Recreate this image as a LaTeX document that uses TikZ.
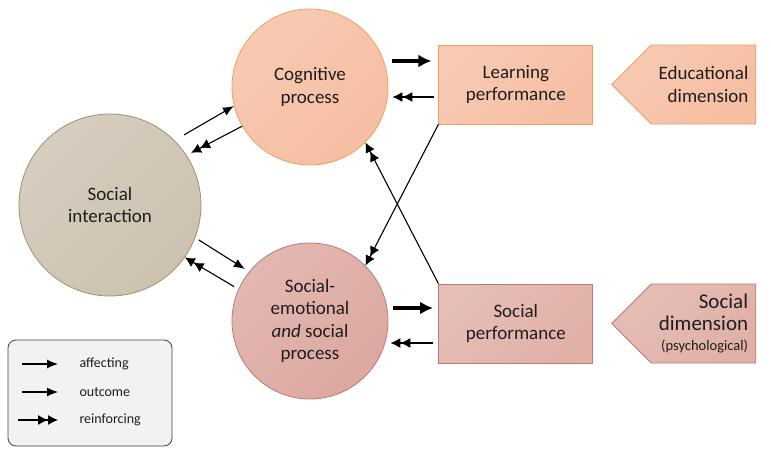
\documentclass[tikz,border=0pt]{standalone}
\usepackage{fontspec}
\setmainfont{Carlito}
\usetikzlibrary{positioning}
\usetikzlibrary{arrows.meta}
\usetikzlibrary{shapes.symbols}
\definecolor{cogfill}{RGB}{246,190,162}
\definecolor{cogline}{RGB}{236,162,90}
\definecolor{socfill}{RGB}{204,194,176}
\definecolor{socline}{RGB}{160,145,115}
\definecolor{emofill}{RGB}{220,168,160}
\definecolor{emoline}{RGB}{190,122,114}
\definecolor{perffill}{RGB}{224,176,167}
\definecolor{textcol}{RGB}{30,30,30}
\tikzset{node distance=50pt, % distance between circles and boxes
  every node/.style={align=center, text=textcol},
  shaded/.style={top color=#1!82!white, bottom color=#1, shading angle=45},
  process/.style={ % circles
    circle, draw, line width=0.8pt,
    minimum size=156pt, inner sep=0pt,
    font=\fontsize{19}{22.5}\selectfont},
  perf/.style={ % boxes
    rectangle, draw, line width=0.8pt,
    minimum width=154pt, minimum height=79pt,
    font=\fontsize{19}{22.5}\selectfont},
  dimension/.style={ % pointed boxes
    signal, signal to=west, signal pointer angle=90,
    draw, line width=0.8pt, align=right,
    minimum width=144pt, minimum height=79pt},
  affecting/.style={draw, line width=1.1pt, -{Latex[length=11pt,width=9pt]}},
  outcome/.style={draw, line width=3.4pt, -{Latex[length=13pt,width=13pt]}},
  reinforcing/.style={draw, line width=1.1pt,
    -{Latex[length=10pt,width=10pt]Latex[length=10pt,width=10pt]}},
  legendbox/.style={rectangle, rounded corners=8pt, draw=black!75,
    fill=black!5, line width=0.8pt,
    minimum width=164pt, minimum height=106pt},
  legendtext/.style={anchor=west, font=\fontsize{14}{16}\selectfont}}

\begin{document}
\begin{tikzpicture}[x=1pt,y=-1pt]
  \useasboundingbox (0,0) rectangle (771,453);
  \node [process, shaded=socfill, draw=socline, minimum size=182pt] (socint) at (110,205) {Social\\ interaction};
  \node [process, shaded=cogfill, draw=cogline] (cogproc) at (310,87) {Cognitive\\ process};
  \node [process, shaded=emofill, draw=emoline] (emoproc) at (310,321) {Social-\\ emotional\\ \textit{and} social\\ process};

  \node [perf, shaded=cogfill, draw=cogline, right=of cogproc, yshift=2.5pt] (learnperf) {Learning\\ performance};
  \node [perf, shaded=perffill, draw=emoline, right=of emoproc, yshift=-2.5pt] (socperf) {Social\\ performance};

  \node [dimension, shaded=cogfill, draw=cogline, right=18pt of learnperf,
    font=\fontsize{19}{22.5}\selectfont] (edudim) {Educational\\ dimension};
  \node [dimension, shaded=perffill, draw=emoline, right=18pt of socperf,
    font=\fontsize{21}{22}\selectfont] (socdim) {Social\\ dimension\\[-2pt]
    {\fontsize{14.5}{16}\selectfont (psychological)}};

  % circle to circle
  \draw [affecting, shorten <=11pt] (socint.45) -- (cogproc.194);
  \draw [reinforcing, shorten >=5pt] (cogproc.210) -- (socint.33);
  \draw [affecting, shorten <=4pt, shorten >=5pt] (socint.339) -- (emoproc.141);
  \draw [reinforcing, shorten <=5pt] (emoproc.156) -- (socint.325);

  % circle to box
  \draw [outcome] ([xshift=4pt,yshift=26pt]cogproc.east) -- ([xshift=-7pt,yshift=23.5pt]learnperf.west);
  \draw [reinforcing] ([xshift=-4pt,yshift=-12.5pt]learnperf.west) -- ([xshift=4pt,yshift=-10pt]cogproc.east);
  \draw [outcome] ([xshift=4.6pt,yshift=13pt]emoproc.east) -- ([xshift=-5.4pt,yshift=15.5pt]socperf.west);
  \draw [reinforcing] ([xshift=-5pt,yshift=-19.5pt]socperf.west) -- ([xshift=2pt,yshift=-22pt]emoproc.east);

  % crossing
  \draw [reinforcing] (learnperf.south west) -- (emoproc.45);
  \draw [reinforcing] (socperf.north west) -- (cogproc.-45);

  % legend
  \node [legendbox] (legend) at (90,393) {};
  \coordinate (affA) at (22,364);
  \coordinate (affB) at (58,364);
  \coordinate (outA) at (22,392);
  \coordinate (outB) at (58,392);
  \coordinate (reiA) at (18,420);
  \coordinate (reiB) at (58,420);
  \draw [affecting] (affA) -- (affB);
  \draw [affecting] (outA) -- (outB);
  \draw [reinforcing] (reiA) -- (reiB);
  \node [legendtext] (afftext) at (76,364) {affecting};
  \node [legendtext] (outtext) at (76,392) {outcome};
  \node [legendtext] (reitext) at (76,420) {reinforcing};
\end{tikzpicture}
\end{document}
